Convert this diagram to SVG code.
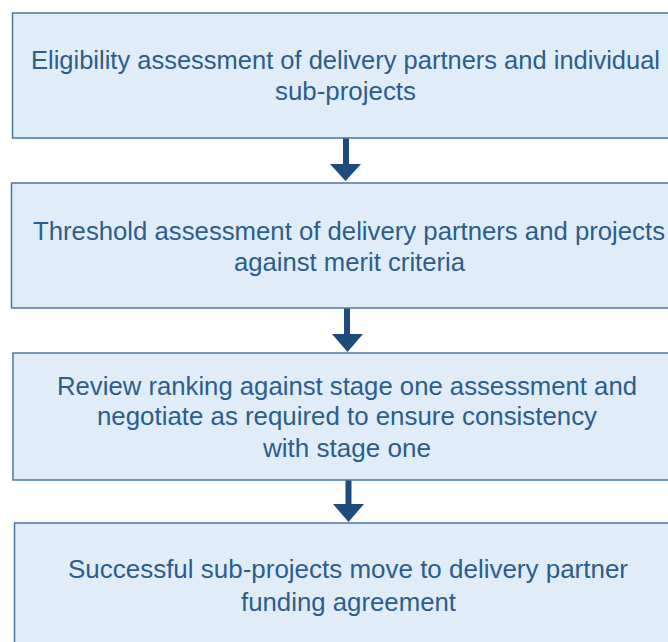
<svg xmlns="http://www.w3.org/2000/svg" width="668" height="642" viewBox="0 0 668 642">
<style>
.box{fill:#e0edf9;stroke:#4d75a2;stroke-width:1.5}
.t{font-family:"Liberation Sans",Arial,sans-serif;font-size:25px;fill:#2b5d8d;text-anchor:middle}
.arr{fill:#1d4c7c}
</style>
<rect width="668" height="642" fill="#ffffff"/>
<g id="node1">
<rect class="box" x="12.5" y="13" width="670" height="125"/>
<text class="t" x="345.5" y="69" textLength="629" lengthAdjust="spacingAndGlyphs">Eligibility assessment of delivery partners and individual</text>
<text class="t" x="345.5" y="100" textLength="141" lengthAdjust="spacingAndGlyphs">sub-projects</text>
</g>
<g id="node2">
<rect class="box" x="11.5" y="183" width="670" height="125"/>
<text class="t" x="349" y="239.5" textLength="632" lengthAdjust="spacingAndGlyphs">Threshold assessment of delivery partners and projects</text>
<text class="t" x="349.5" y="271" textLength="231" lengthAdjust="spacingAndGlyphs">against merit criteria</text>
</g>
<g id="node3">
<rect class="box" x="13" y="353" width="670" height="127"/>
<text class="t" x="347" y="395" textLength="580" lengthAdjust="spacingAndGlyphs">Review ranking against stage one assessment and</text>
<text class="t" x="347" y="425" textLength="500" lengthAdjust="spacingAndGlyphs">negotiate as required to ensure consistency</text>
<text class="t" x="347" y="457" textLength="168" lengthAdjust="spacingAndGlyphs">with stage one</text>
</g>
<g id="node4">
<rect class="box" x="14.5" y="523" width="670" height="130"/>
<text class="t" x="348" y="578" textLength="560" lengthAdjust="spacingAndGlyphs">Successful sub-projects move to delivery partner</text>
<text class="t" x="348.5" y="611" textLength="215" lengthAdjust="spacingAndGlyphs">funding agreement</text>
</g>
<g id="connectors">
<path class="arr" d="M343 138.5 H349 V164 H361 L345.5 181 L330 164 H343 Z"/>
<path class="arr" d="M344 308.5 H350 V334 H363 L347.5 352 L332 334 H344 Z"/>
<path class="arr" d="M345.5 480.5 H351.5 V504 H364 L348.5 522 L333 504 H345.5 Z"/>
</g>
</svg>
